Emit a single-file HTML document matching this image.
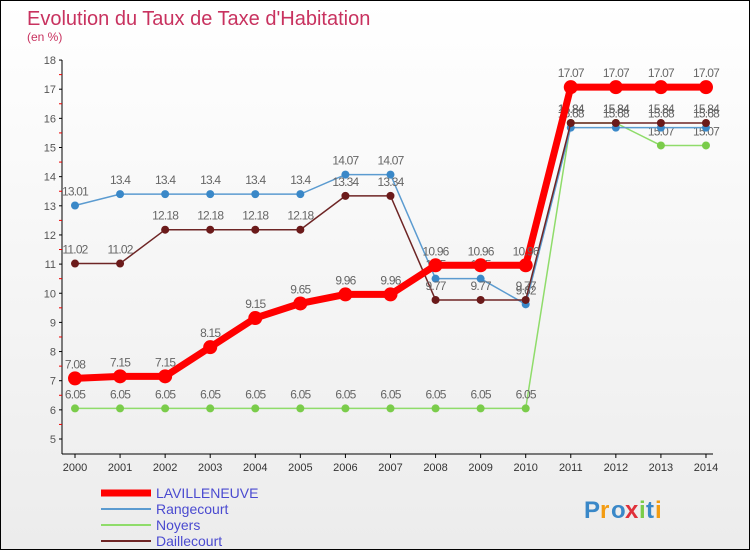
<!DOCTYPE html>
<html><head><meta charset="utf-8"><style>
body{margin:0;}
#wrap{position:relative;width:748px;height:548px;border:1px solid #000;background:linear-gradient(#fff,#ececec);font-family:"Liberation Sans",sans-serif;overflow:hidden}
</style></head><body>
<div id="wrap">
<svg id="c" width="748" height="548"></svg>
</div>
<script>
const years=[2000,2001,2002,2003,2004,2005,2006,2007,2008,2009,2010,2011,2012,2013,2014];
const lavilleneuve=[7.08,7.15,7.15,8.15,9.15,9.65,9.96,9.96,10.96,10.96,10.96,17.07,17.07,17.07,17.07];
const rangecourt=[13.01,13.4,13.4,13.4,13.4,13.4,14.07,14.07,10.5,10.5,9.62,15.68,15.68,15.68,15.68];
const noyers=[6.05,6.05,6.05,6.05,6.05,6.05,6.05,6.05,6.05,6.05,6.05,15.84,15.84,15.07,15.07];
const daillecourt=[11.02,11.02,12.18,12.18,12.18,12.18,13.34,13.34,9.77,9.77,9.77,15.84,15.84,15.84,15.84];
const yTicks=[5,6,7,8,9,10,11,12,13,14,15,16,17,18];
const NS="http://www.w3.org/2000/svg";
const svg=document.getElementById('c');
const X=i=>74+i*45.07, Y=v=>438-(v-5)*29.15;
function el(t,a,p){const e=document.createElementNS(NS,t);for(const k in a)e.setAttribute(k,a[k]);(p||svg).appendChild(e);return e;}
function txt(x,y,s,a,p){const e=el('text',Object.assign({x:x,y:y,'font-size':12,fill:'#555'},a),p);e.textContent=s;return e;}
let t=txt(26,24,"Evolution du Taux de Taxe d'Habitation",{'font-size':20,fill:'#c8325f'});

t=txt(26,40,"(en %)",{'font-size':12,fill:'#c8325f'});

const ax=el('g',{});
el('line',{x1:61,y1:59,x2:61,y2:453,stroke:'#000'},ax);
el('line',{x1:61,y1:453,x2:712,y2:453,stroke:'#000'},ax);
yTicks.forEach(v=>{el('line',{x1:58,x2:61,y1:Y(v),y2:Y(v),stroke:'#000'},ax);
 if(v<18)el('line',{x1:58,x2:61,y1:Y(v+0.5),y2:Y(v+0.5),stroke:'#e00'},ax);
 const tt=txt(55,Y(v)+4,String(v),{'text-anchor':'end','font-size':11},ax);});
years.forEach((y,i)=>{el('line',{x1:X(i),x2:X(i),y1:453,y2:457,stroke:'#000'},ax);
 const tt=txt(X(i),470,String(y),{'text-anchor':'middle','font-size':11,fill:'#333'},ax);});
function series(name,data,color,w,r,dot){
 const g=el('g',{});
 el('polyline',{points:data.map((v,i)=>X(i)+','+Y(v)).join(' '),fill:'none',stroke:color,'stroke-width':w},g);
 data.forEach((v,i)=>{const c=el('circle',{cx:X(i),cy:Y(v),r:r,fill:dot},g);
  const l=txt(X(i),Y(v)-10,String(v),{'text-anchor':'middle','font-size':12,fill:'#666','letter-spacing':'-0.8'},g);});
}
series('noyers',noyers,'#8fdc6a',1.5,4,'#7acc4a');
series('rangecourt',rangecourt,'#5b9bd0',1.5,4,'#3a88c8');
series('daillecourt',daillecourt,'#6e2525',1.5,4,'#6b1a1a');
series('lavilleneuve',lavilleneuve,'#f00',7,7,'#f00');
const lg=[['LAVILLENEUVE','#f00',7],['Rangecourt','#5b9bd0',2],['Noyers','#8fdc6a',2],['Daillecourt','#6e2525',2]];
lg.forEach((d,i)=>{const g=el('g',{});
 const y=492+i*16;el('line',{x1:100,x2:150,y1:y,y2:y,stroke:d[1],'stroke-width':d[2]},g);
 txt(155,y+5,d[0],{'font-size':14,fill:'#4a4ad0'},g);});
const lo=el('g',{});
[['P','#3a88c8'],['r','#f39c12'],['o','#3a88c8'],['x','#e0303a'],['i','#7acc4a'],['t','#3a88c8'],['i','#f39c12']].forEach((c,i)=>{
 txt(583+[0,16,27,41,55,62,71][i],517,c[0],{'font-size':24,'font-weight':'bold',fill:c[1]},lo);});
</script>
</body></html>
